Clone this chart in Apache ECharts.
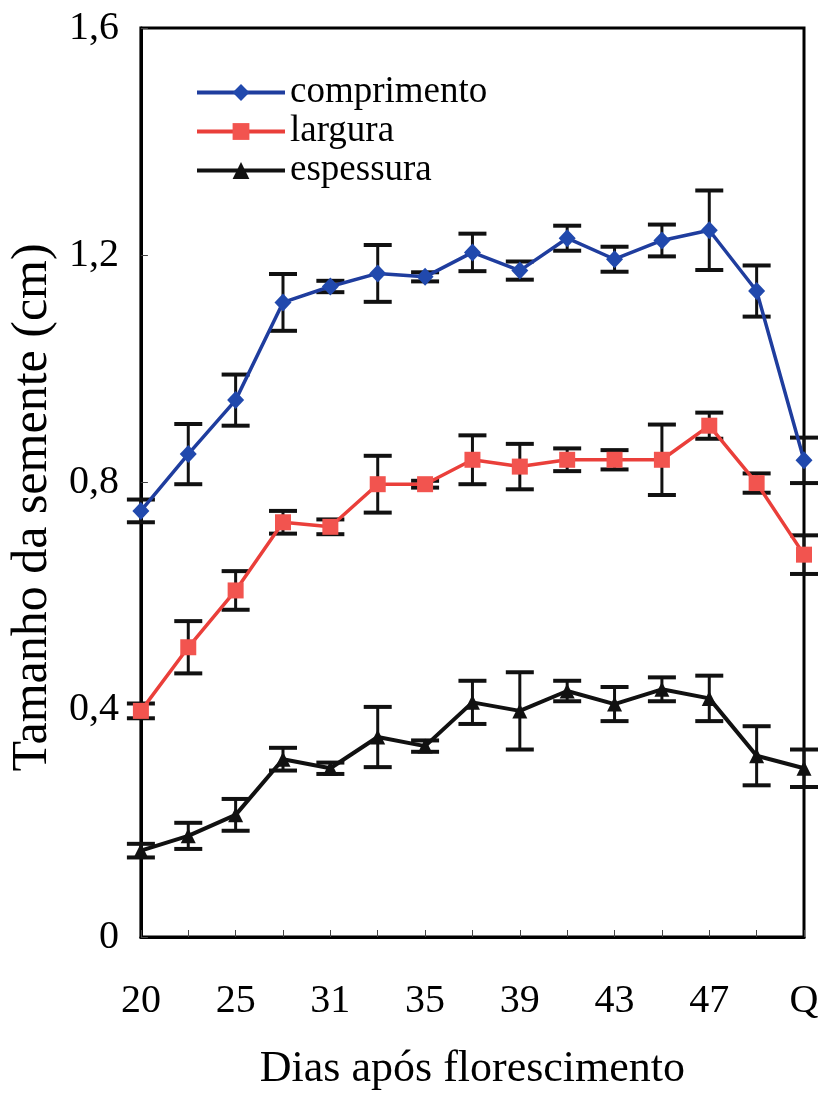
<!DOCTYPE html>
<html>
<head>
<meta charset="utf-8">
<script src="https://cdn.jsdelivr.net/npm/echarts@6/dist/echarts.min.js"></script>
<style>
html,body{margin:0;padding:0;background:#fff;}
#chart{width:824px;height:1103px;}
</style>
</head>
<body>
<div id="chart"></div>
<script>
// ---- data ----
var categories = ['20','23','25','28','31','33','35','37','39','41','43','45','47','49','Q'];
var yTickLabels = ['0','0,4','0,8','1,2','1,6'];

var comprimento    = [0.750,0.850,0.945,1.117,1.145,1.168,1.162,1.205,1.173,1.230,1.193,1.226,1.244,1.137,0.839];
var comprimentoErr = [0.020,0.053,0.045,0.050,0.010,0.050,0.008,0.033,0.016,0.022,0.022,0.028,0.070,0.045,0.040];

var largura    = [0.398,0.510,0.610,0.730,0.722,0.797,0.797,0.840,0.828,0.840,0.840,0.840,0.900,0.799,0.673];
var larguraErr = [0.013,0.046,0.034,0.020,0.013,0.050,0.006,0.043,0.040,0.020,0.017,0.062,0.023,0.017,0.034];

var espessura    = [0.152,0.178,0.215,0.313,0.297,0.352,0.336,0.413,0.398,0.433,0.410,0.436,0.420,0.319,0.297];
var espessuraErr = [0.012,0.023,0.028,0.020,0.010,0.053,0.010,0.038,0.068,0.018,0.030,0.021,0.040,0.052,0.033];

// ---- chart ----
var FONT = "'Liberation Serif', 'Times New Roman', serif";

function errData(vals, errs) {
  return vals.map(function (v, i) { return [i, v - errs[i], v + errs[i]]; });
}

function errSeries(vals, errs) {
  return {
    type: 'custom',
    z: 1,
    silent: true,
    legendHoverLink: false,
    data: errData(vals, errs),
    renderItem: function (params, api) {
      var x = api.value(0);
      var lo = api.coord([x, api.value(1)]);
      var hi = api.coord([x, api.value(2)]);
      var hw = 14;
      var st = { stroke: '#111', lineWidth: 3 };
      var cap = { stroke: '#111', lineWidth: 4 };
      return {
        type: 'group',
        children: [
          { type: 'line', shape: { x1: lo[0], y1: lo[1], x2: hi[0], y2: hi[1] }, style: st },
          { type: 'line', shape: { x1: lo[0] - hw, y1: lo[1], x2: lo[0] + hw, y2: lo[1] }, style: cap },
          { type: 'line', shape: { x1: hi[0] - hw, y1: hi[1], x2: hi[0] + hw, y2: hi[1] }, style: cap }
        ]
      };
    }
  };
}

var chart = echarts.init(document.getElementById('chart'), null, { renderer: 'canvas' });

var option = {
  backgroundColor: '#fff',
  animation: false,
  textStyle: { fontFamily: FONT },
  grid: {
    left: 138, right: 20, top: 28, bottom: 166,
    show: true, borderColor: '#000', borderWidth: 3, backgroundColor: 'transparent'
  },
  legend: {
    orient: 'vertical',
    left: 190,
    top: 69,
    itemWidth: 88,
    itemHeight: 21,
    itemGap: 2,
    data: ['comprimento', 'largura', 'espessura'],
    lineStyle: { width: 4 },
    textStyle: { fontFamily: FONT, fontSize: 37, color: '#000', lineHeight: 36 }
  },
  xAxis: {
    type: 'category',
    data: categories,
    boundaryGap: false,
    name: 'Dias após florescimento',
    nameLocation: 'middle',
    nameGap: 110,
    nameTextStyle: { fontFamily: FONT, fontSize: 44, color: '#000' },
    axisLine: { show: true, lineStyle: { color: '#000', width: 3 } },
    axisTick: { show: true, inside: true, length: 7, interval: 0, lineStyle: { color: '#444', width: 1 } },
    axisLabel: { interval: 1, margin: 44, fontFamily: FONT, fontSize: 40, color: '#000' },
    splitLine: { show: false }
  },
  yAxis: {
    type: 'value',
    min: 0, max: 1.6, interval: 0.4,
    name: 'Tamanho da semente (cm)',
    nameLocation: 'middle',
    nameGap: 78,
    nameTextStyle: { fontFamily: FONT, fontSize: 50, color: '#000', padding: [0, 50, 0, 0] },
    axisLine: { show: true, lineStyle: { color: '#000', width: 3 } },
    axisTick: { show: true, inside: true, length: 7, lineStyle: { color: '#444', width: 1 } },
    axisLabel: {
      margin: 22, fontFamily: FONT, fontSize: 40, color: '#000',
      formatter: function (v) { return yTickLabels[Math.round(v / 0.4)]; }
    },
    splitLine: { show: false }
  },
  series: [
    errSeries(comprimento, comprimentoErr),
    errSeries(largura, larguraErr),
    errSeries(espessura, espessuraErr),
    {
      name: 'comprimento', type: 'line', z: 3, data: comprimento,
      symbol: 'diamond', symbolSize: [17, 18],
      lineStyle: { color: '#1f3d9e', width: 3.5 },
      itemStyle: { color: '#2149ad' }
    },
    {
      name: 'largura', type: 'line', z: 3, data: largura,
      symbol: 'rect', symbolSize: 16,
      lineStyle: { color: '#ea3f3a', width: 3.5 },
      itemStyle: { color: '#f2544f' }
    },
    {
      name: 'espessura', type: 'line', z: 3, data: espessura,
      symbol: 'triangle', symbolSize: [15, 15],
      lineStyle: { color: '#111', width: 4 },
      itemStyle: { color: '#111' }
    }
  ]
};
chart.setOption(option);
</script>
</body>
</html>
